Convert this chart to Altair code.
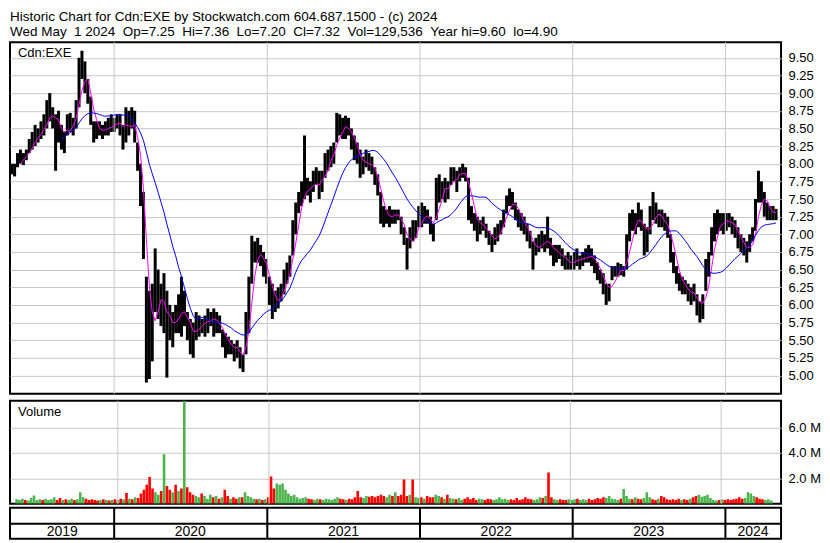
import altair as alt
import pandas as pd

FONT = "Liberation Sans, Arial, sans-serif"

TITLE_1 = "Historic Chart for Cdn:EXE by Stockwatch.com 604.687.1500 - (c) 2024"
S2 = "\u00a0\u00a0"
TITLE_2 = ("Wed May" + S2 + "1 2024" + S2 + "Op=7.25" + S2 + "Hi=7.36" + S2 + "Lo=7.20" + S2
           + "Cl=7.32" + S2 + "Vol=129,536" + S2 + "Year hi=9.60" + S2 + "lo=4.90")

SYMBOL = "Cdn:EXE"
VOLUME_LABEL = "Volume"

# weekly bars, first week starting 2019-05-01
FIRST_WEEK = "2019-05-01"

LOW = [
    7.85, 7.82, 7.95, 8.0, 7.98, 8.05, 8.15, 8.2, 8.25, 8.3,
    8.35, 8.4, 8.5, 8.6, 8.5, 7.9, 8.3, 8.2, 8.15, 8.4,
    8.45, 8.4, 8.5, 8.8, 9.2, 9.0, 8.85, 8.55, 8.3, 8.35,
    8.4, 8.35, 8.4, 8.4, 8.45, 8.45, 8.5, 8.4, 8.2, 8.3,
    8.4, 8.5, 8.3, 7.9, 7.4, 6.65, 4.9, 4.95, 5.2, 5.9,
    5.8, 5.7, 5.6, 4.97, 5.5, 5.4, 5.6, 5.6, 5.55, 5.7,
    5.5, 5.3, 5.25, 5.5, 5.55, 5.6, 5.55, 5.6, 5.7, 5.55,
    5.6, 5.6, 5.4, 5.25, 5.3, 5.3, 5.2, 5.25, 5.1, 5.05,
    5.3, 5.6, 6.3, 6.6, 6.6, 6.55, 6.4, 6.3, 6.0, 5.8,
    5.9, 5.95, 6.05, 6.15, 6.3, 6.4, 6.7, 7.0, 7.3, 7.4,
    7.5, 7.55, 7.45, 7.6, 7.7, 7.5, 7.6, 7.8, 7.9, 7.95,
    8.0, 8.3, 8.4, 8.35, 8.35, 8.4, 8.2, 8.05, 8.0, 7.8,
    7.85, 7.95, 7.9, 7.85, 7.7, 7.55, 7.15, 7.1, 7.15, 7.1,
    7.15, 7.15, 7.2, 7.0, 6.85, 6.5, 6.8, 6.9, 6.95, 7.1,
    7.1, 7.15, 7.15, 7.0, 6.9, 7.2, 7.45, 7.5, 7.45, 7.5,
    7.7, 7.75, 7.6, 7.75, 7.8, 7.75, 7.2, 7.15, 7.05, 6.9,
    7.0, 7.05, 6.95, 6.85, 6.75, 6.85, 6.9, 7.0, 7.1, 7.3,
    7.4, 7.35, 7.2, 7.1, 7.05, 7.0, 6.9, 6.8, 6.5, 6.7,
    6.75, 6.8, 6.75, 6.8, 6.7, 6.55, 6.6, 6.65, 6.55, 6.5,
    6.5, 6.5, 6.5, 6.55, 6.5, 6.55, 6.6, 6.6, 6.55, 6.45,
    6.35, 6.3, 6.15, 6.0, 6.05, 6.35, 6.4, 6.4, 6.42, 6.4,
    6.5, 6.9, 7.05, 7.0, 7.1, 7.05, 6.7, 6.75, 7.0, 7.2,
    7.15, 7.1, 7.1, 7.05, 6.95, 6.6, 6.45, 6.3, 6.2, 6.15,
    6.15, 6.05, 6.0, 6.05, 5.85, 5.75, 5.8, 6.2, 6.4, 6.7,
    6.9, 7.0, 7.05, 7.0, 7.05, 7.1, 7.0, 6.95, 6.8, 6.75,
    6.7, 6.6, 6.75, 6.9, 7.05, 7.45, 7.45, 7.25, 7.2, 7.2,
    7.2, 7.2,
]

HIGH = [
    8.0, 8.0, 8.15, 8.2, 8.15, 8.2, 8.35, 8.45, 8.55, 8.5,
    8.6, 8.7, 8.9, 9.0, 8.8, 8.7, 8.75, 8.55, 8.45, 8.7,
    8.72, 8.65, 8.9, 9.5, 9.6, 9.45, 9.2, 8.95, 8.6, 8.6,
    8.6, 8.55, 8.6, 8.65, 8.7, 8.65, 8.7, 8.7, 8.55, 8.8,
    8.75, 8.8, 8.75, 8.3, 8.0, 7.6, 6.4, 6.2, 6.3, 6.8,
    6.5, 6.3, 6.45, 6.2, 6.0, 5.9, 6.0, 6.15, 6.4, 6.2,
    5.9, 5.8, 5.75, 5.9, 5.85, 5.8, 5.85, 5.95, 5.9, 5.95,
    5.9, 5.85, 5.65, 5.6, 5.55, 5.5, 5.45, 5.5, 5.4, 5.3,
    5.9, 6.4, 6.98, 6.9, 6.95, 6.85, 6.75, 6.65, 6.4, 6.3,
    6.2, 6.25, 6.3, 6.5, 6.6, 6.7, 7.2, 7.45, 7.6, 7.75,
    8.4, 7.8, 7.75, 7.9, 7.95, 7.9, 7.9, 8.15, 8.2, 8.25,
    8.3, 8.72, 8.7, 8.65, 8.68, 8.65, 8.5, 8.4, 8.3, 8.2,
    8.1, 8.2, 8.15, 8.1, 7.95, 7.85, 7.6, 7.4, 7.35, 7.4,
    7.35, 7.35, 7.35, 7.25, 7.1, 6.95, 7.1, 7.2, 7.2, 7.4,
    7.45, 7.4, 7.35, 7.25, 7.15, 7.8, 7.85, 7.75, 7.8, 7.75,
    7.95, 7.95, 7.9, 7.95, 8.0, 7.95, 7.8, 7.4, 7.3, 7.25,
    7.2, 7.25, 7.15, 7.05, 7.0, 7.1, 7.15, 7.2, 7.35, 7.55,
    7.65, 7.6, 7.45, 7.35, 7.3, 7.25, 7.15, 7.05, 6.9, 6.95,
    7.0, 7.05, 7.0, 7.25, 6.95, 6.85, 6.85, 6.85, 6.8, 6.7,
    6.75, 6.7, 6.75, 6.8, 6.7, 6.75, 6.8, 6.85, 6.8, 6.7,
    6.6, 6.5, 6.45, 6.3, 6.3, 6.55, 6.55, 6.6, 6.58, 6.55,
    7.0, 7.3, 7.35, 7.3, 7.45, 7.35, 7.15, 7.1, 7.4, 7.6,
    7.45, 7.35, 7.35, 7.3, 7.25, 7.0, 6.75, 6.55, 6.45, 6.4,
    6.35, 6.3, 6.25, 6.3, 6.15, 6.05, 6.15, 6.65, 6.75, 7.1,
    7.3, 7.35, 7.3, 7.3, 7.3, 7.3, 7.25, 7.2, 7.1, 7.0,
    6.95, 6.9, 7.0, 7.1, 7.5, 7.9, 7.75, 7.6, 7.45, 7.4,
    7.4, 7.36,
]

CLOSE = [
    7.9, 7.95, 8.1, 8.05, 8.1, 8.15, 8.3, 8.3, 8.45, 8.4,
    8.5, 8.6, 8.7, 8.8, 8.6, 8.5, 8.6, 8.3, 8.4, 8.6,
    8.55, 8.6, 8.8, 9.4, 9.35, 9.1, 8.95, 8.6, 8.45, 8.5,
    8.45, 8.5, 8.45, 8.6, 8.5, 8.6, 8.55, 8.65, 8.3, 8.7,
    8.5, 8.6, 8.4, 8.0, 7.5, 6.7, 5.5, 5.4, 6.0, 6.2,
    6.0, 6.1, 5.9, 5.6, 5.8, 5.7, 5.9, 5.8, 6.1, 5.8,
    5.6, 5.5, 5.6, 5.8, 5.7, 5.7, 5.75, 5.9, 5.75, 5.8,
    5.7, 5.7, 5.5, 5.4, 5.45, 5.4, 5.35, 5.4, 5.2, 5.2,
    5.8, 6.3, 6.8, 6.7, 6.75, 6.6, 6.6, 6.4, 6.1, 6.0,
    6.05, 6.1, 6.2, 6.4, 6.5, 6.6, 7.1, 7.3, 7.5, 7.6,
    7.7, 7.65, 7.6, 7.8, 7.8, 7.6, 7.85, 8.05, 8.1, 8.15,
    8.2, 8.6, 8.5, 8.45, 8.55, 8.5, 8.3, 8.15, 8.1, 7.95,
    8.0, 8.05, 8.0, 7.9, 7.8, 7.6, 7.3, 7.2, 7.25, 7.3,
    7.25, 7.3, 7.25, 7.1, 6.9, 6.75, 7.0, 6.95, 7.1, 7.3,
    7.25, 7.3, 7.2, 7.1, 7.05, 7.6, 7.7, 7.6, 7.7, 7.6,
    7.85, 7.85, 7.8, 7.9, 7.9, 7.85, 7.3, 7.25, 7.2, 7.1,
    7.1, 7.15, 7.0, 6.9, 6.85, 7.0, 7.1, 7.1, 7.3, 7.45,
    7.5, 7.45, 7.3, 7.2, 7.15, 7.1, 7.0, 6.85, 6.7, 6.8,
    6.9, 6.95, 6.85, 6.9, 6.8, 6.7, 6.7, 6.75, 6.65, 6.6,
    6.55, 6.6, 6.65, 6.7, 6.6, 6.65, 6.7, 6.75, 6.65, 6.55,
    6.45, 6.4, 6.25, 6.15, 6.2, 6.45, 6.5, 6.5, 6.5, 6.45,
    6.9, 7.15, 7.2, 7.15, 7.3, 7.1, 6.9, 7.0, 7.3, 7.4,
    7.25, 7.2, 7.2, 7.1, 7.05, 6.7, 6.55, 6.4, 6.3, 6.2,
    6.25, 6.15, 6.1, 6.2, 5.95, 5.9, 6.05, 6.5, 6.6, 6.95,
    7.1, 7.2, 7.2, 7.1, 7.25, 7.2, 7.1, 7.0, 6.9, 6.85,
    6.8, 6.7, 6.9, 7.0, 7.4, 7.7, 7.55, 7.35, 7.3, 7.3,
    7.3, 7.32,
]

# volume, millions of shares
VOLUME_M = [
    0.35, 0.3, 0.4, 0.3, 0.25, 0.45, 0.65, 0.3, 0.35, 0.3,
    0.4, 0.3, 0.35, 0.5, 0.3, 0.45, 0.3, 0.35, 0.3, 0.4,
    0.3, 0.35, 0.9, 0.5, 0.4, 0.3, 0.35, 0.3, 0.25, 0.3,
    0.35, 0.3, 0.25, 0.3, 0.35, 0.3, 0.4, 0.35, 0.85, 0.4,
    0.35, 0.5, 0.45, 0.8, 1.1, 1.5, 2.1, 1.2, 0.9, 0.7,
    1.0, 3.9, 1.4, 1.1, 0.9, 1.5, 1.0, 1.2, 8.1, 1.3,
    0.9, 0.7, 0.6, 0.5, 0.8, 0.6, 0.4, 0.7, 0.5, 0.6,
    0.4, 0.5, 1.1, 0.6, 0.4, 0.5, 0.4, 0.5, 0.5, 0.9,
    0.6, 0.5, 0.4, 0.35, 0.4, 0.3, 0.35, 0.5, 2.15, 1.2,
    1.6, 1.5, 1.6, 1.1, 0.8, 0.6, 0.7, 0.5, 0.4, 0.45,
    0.5, 0.4, 0.35, 0.3, 0.4, 0.35, 0.3, 0.4, 0.35, 0.3,
    0.4, 0.5, 0.4, 0.35, 0.3, 0.4, 0.35, 0.5, 1.0, 0.5,
    0.45, 0.6, 0.55, 0.6, 0.5, 0.6, 0.7, 0.6, 0.5, 0.7,
    0.6, 0.9, 0.6, 0.7, 1.9, 0.6, 0.7, 1.9, 0.5, 0.45,
    0.5, 0.4, 0.6, 0.5, 0.5, 0.7, 0.6, 0.5, 0.4, 0.7,
    0.45, 0.4, 0.35, 0.45, 0.3, 0.4, 0.5, 0.35, 0.45, 0.3,
    0.4, 0.35, 0.3, 0.4, 0.35, 0.3, 0.35, 0.5, 0.35, 0.4,
    0.3, 0.35, 0.3, 0.45, 0.3, 0.35, 0.5, 0.4, 0.35, 0.3,
    0.35, 0.5, 0.45, 0.6, 2.45, 0.5, 0.35, 0.3, 0.35, 0.3,
    0.3, 0.35, 0.3, 0.35, 0.4, 0.3, 0.35, 0.3, 0.4, 0.3,
    0.35, 0.45, 0.4, 0.5, 0.45, 0.6, 0.4, 0.35, 0.3, 0.4,
    1.15, 0.6, 0.4, 0.35, 0.5, 0.4, 0.35, 0.45, 0.9, 0.5,
    0.35, 0.3, 0.4, 0.6, 0.5, 0.35, 0.3, 0.35, 0.3, 0.4,
    0.3, 0.35, 0.3, 0.4, 0.5, 0.6, 0.7, 0.55, 0.6, 0.7,
    0.45, 0.3, 0.25, 0.3, 0.35, 0.3, 0.35, 0.3, 0.35, 0.4,
    0.5, 0.4, 0.45, 0.9, 0.8, 0.6, 0.5, 0.4, 0.35, 0.3,
    0.35, 0.25,
]

PRICE_TICKS = [5.00, 5.25, 5.50, 5.75, 6.00, 6.25, 6.50, 6.75, 7.00, 7.25,
               7.50, 7.75, 8.00, 8.25, 8.50, 8.75, 9.00, 9.25, 9.50]
VOLUME_TICKS = [2, 4, 6]

YEAR_STARTS = ["2020-01-01", "2021-01-01", "2022-01-01", "2023-01-01", "2024-01-01"]
YEAR_LABELS = ["2019", "2020", "2021", "2022", "2023", "2024"]
YEAR_LABEL_DATES = ["2019-08-30", "2020-07-01", "2021-07-02", "2022-07-02",
                    "2023-07-02", "2024-03-07"]

assert len(LOW) == len(HIGH) == len(CLOSE) == len(VOLUME_M)

df = pd.DataFrame({
    "date": pd.date_range(FIRST_WEEK, periods=len(CLOSE), freq="7D"),
    "low": LOW, "high": HIGH, "close": CLOSE, "vol": VOLUME_M,
})
years_df = pd.DataFrame({"date": pd.to_datetime(YEAR_STARTS)})
labels_df = pd.DataFrame({"date": pd.to_datetime(YEAR_LABEL_DATES), "label": YEAR_LABELS})

W = 772
PRICE_H = 352
VOL_H = 103
BAND_H = 31

GRID = "#c8c8c8"
GREEN = "#4cb44c"
RED = "#ff0000"

xscale = alt.Scale(domain=[alt.DateTime(year=2019, month=4, date=27),
                           alt.DateTime(year=2024, month=5, date=13)])
x_enc = alt.X("date:T", scale=xscale, axis=None)

yscale = alt.Scale(domain=[4.74, 9.72], nice=False, zero=False)
yaxis = alt.Axis(orient="right", values=PRICE_TICKS, format=".2f", grid=True,
                 ticks=False, domain=False, title=None, labelFontSize=13,
                 labelFont=FONT, labelColor="black", labelPadding=7,
                 labelOverlap=False, gridColor=GRID)

vscale = alt.Scale(domain=[0, 8.1], nice=False)
vaxis = alt.Axis(orient="right", values=VOLUME_TICKS,
                 labelExpr="format(datum.value, '.1f') + ' M'",
                 grid=True, ticks=False, domain=False, title=None,
                 labelFontSize=13, labelFont=FONT, labelColor="black",
                 labelPadding=7, labelOverlap=False, gridColor=GRID)

base = alt.Chart(df)

year_grid = alt.Chart(years_df).mark_rule(color=GRID, strokeWidth=1).encode(x=x_enc)

price_bars = base.mark_rule(color="black", strokeWidth=3).encode(
    x=x_enc,
    y=alt.Y("low:Q", scale=yscale, axis=yaxis),
    y2="high:Q",
)


def moving_average(n_weeks, color):
    return base.transform_window(
        window=[alt.WindowFieldDef(op="mean", field="close", **{"as": "ma"}),
                alt.WindowFieldDef(op="count", **{"as": "n"})],
        frame=[-(n_weeks - 1), 0],
        sort=[alt.SortField("date")],
    ).transform_filter(f"datum.n >= {n_weeks}").mark_line(
        color=color, strokeWidth=1
    ).encode(x=x_enc, y=alt.Y("ma:Q", scale=yscale, axis=yaxis))


ma_fast = moving_average(4, "#ff00ff")
ma_slow = moving_average(18, "#0000ff")

symbol_text = alt.Chart(pd.DataFrame({"t": [SYMBOL]})).mark_text(
    align="left", baseline="top", fontSize=13, font=FONT, color="black"
).encode(x=alt.value(8), y=alt.value(5), text="t:N")

price = alt.layer(price_bars, year_grid, ma_fast, ma_slow, symbol_text).properties(
    width=W, height=PRICE_H)

vbase = base.transform_window(
    window=[alt.WindowFieldDef(op="lag", field="close", **{"as": "prev"})],
    sort=[alt.SortField("date")],
).transform_calculate(
    dir="datum.prev == null || datum.close >= datum.prev ? 'up' : 'down'"
)

vol_bars = vbase.mark_bar(size=2.6, clip=True).encode(
    x=x_enc,
    y=alt.Y("vol:Q", scale=vscale, axis=vaxis),
    color=alt.Color("dir:N", scale=alt.Scale(domain=["up", "down"], range=[GREEN, RED]),
                    legend=None),
)

vol_text = alt.Chart(pd.DataFrame({"t": [VOLUME_LABEL]})).mark_text(
    align="left", baseline="top", fontSize=13, font=FONT, color="black"
).encode(x=alt.value(8), y=alt.value(5), text="t:N")

volume = alt.layer(vol_bars, year_grid, vol_text).properties(width=W, height=VOL_H)

separators = alt.Chart(years_df).mark_rule(color="black", strokeWidth=2).encode(x=x_enc)
midline = alt.Chart(pd.DataFrame({"k": [0]})).mark_rule(color="black", strokeWidth=2).encode(
    y=alt.value(16))
year_text = alt.Chart(labels_df).mark_text(
    align="center", baseline="middle", fontSize=14, font=FONT, color="black"
).encode(x=x_enc, y=alt.value(24), text="label:N")
band = alt.layer(separators, midline, year_text).properties(width=W, height=BAND_H)

upper = alt.vconcat(price, volume, spacing=3)
chart = alt.vconcat(upper, band, spacing=0).properties(
    title=alt.TitleParams(text=[TITLE_1, TITLE_2], anchor="start", frame="group",
                          fontSize=13.5, font=FONT, fontWeight="normal", color="black",
                          lineHeight=15, offset=2),
    padding={"left": 0, "top": 2, "right": 0, "bottom": 0},
).configure_view(stroke="black", strokeWidth=2).configure_axis(
    gridColor=GRID, gridWidth=1
)

chart.save("out.html", embed_options={"renderer": "svg", "actions": False})
